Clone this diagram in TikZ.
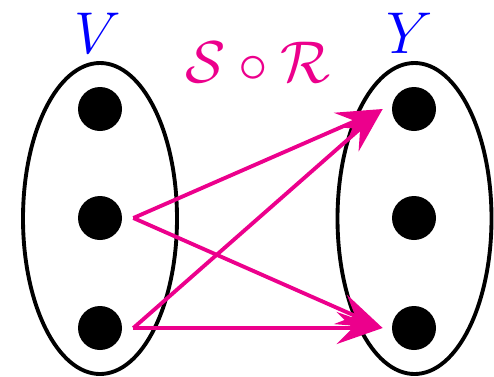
\documentclass[tikz,border=0pt]{standalone}
\usepackage{amsmath}
\usepackage{amssymb}
\usepackage{tikz}
\usetikzlibrary{positioning,arrows.meta}

\definecolor{relmag}{RGB}{236,0,140}

\begin{document}
\begin{tikzpicture}[
    setbox/.style  = {draw, line width=2.2pt},
    elem/.style    = {circle, fill=black, minimum size=8.8mm, inner sep=0pt},
    setname/.style = {text=blue, scale=1.35, font=\Huge},
    rel/.style     = {-{Stealth[length=9.2mm, width=6.4mm, inset=3.2mm]}, relmag, line width=2.2pt},
]
\useasboundingbox (0,0) rectangle (9.88,7.52);

% --- the two sets ---
\draw[setbox] (2.0,3.15) ellipse [x radius=1.54, y radius=3.11];
\draw[setbox] (8.29,3.15) ellipse [x radius=1.54, y radius=3.11];

\node[setname] (nV) at (1.96,6.86) {$V$};
\node[setname] (nY) at (8.2,6.86)  {$Y$};

% --- elements ---
\node[elem] (v1) at (2.0,5.34) {};
\node[elem] (v2) at (2.0,3.16) {};
\node[elem] (v3) at (2.0,0.96) {};

\node[elem] (y1) at (8.28,5.34) {};
\node[elem] (y2) at (8.28,3.16) {};
\node[elem] (y3) at (8.28,0.96) {};

% --- composed relation ---
\coordinate (s2) at ([xshift=2.2mm]v2.east);
\coordinate (s3) at ([xshift=2.2mm]v3.east);
\coordinate (t1) at ([xshift=-1.8mm]y1.west);
\coordinate (t3) at ([xshift=-1.8mm]y3.west);

\draw[rel] (s2) -- (t1);
\draw[rel] (s2) -- (t3);
\draw[rel] (s3) -- (t1);
\draw[rel] (s3) -- (t3);

\node[text=relmag, scale=1.35, font=\Huge] (comp) at (5.16,6.28) {$\mathcal{S}\circ\mathcal{R}$};

\end{tikzpicture}
\end{document}
